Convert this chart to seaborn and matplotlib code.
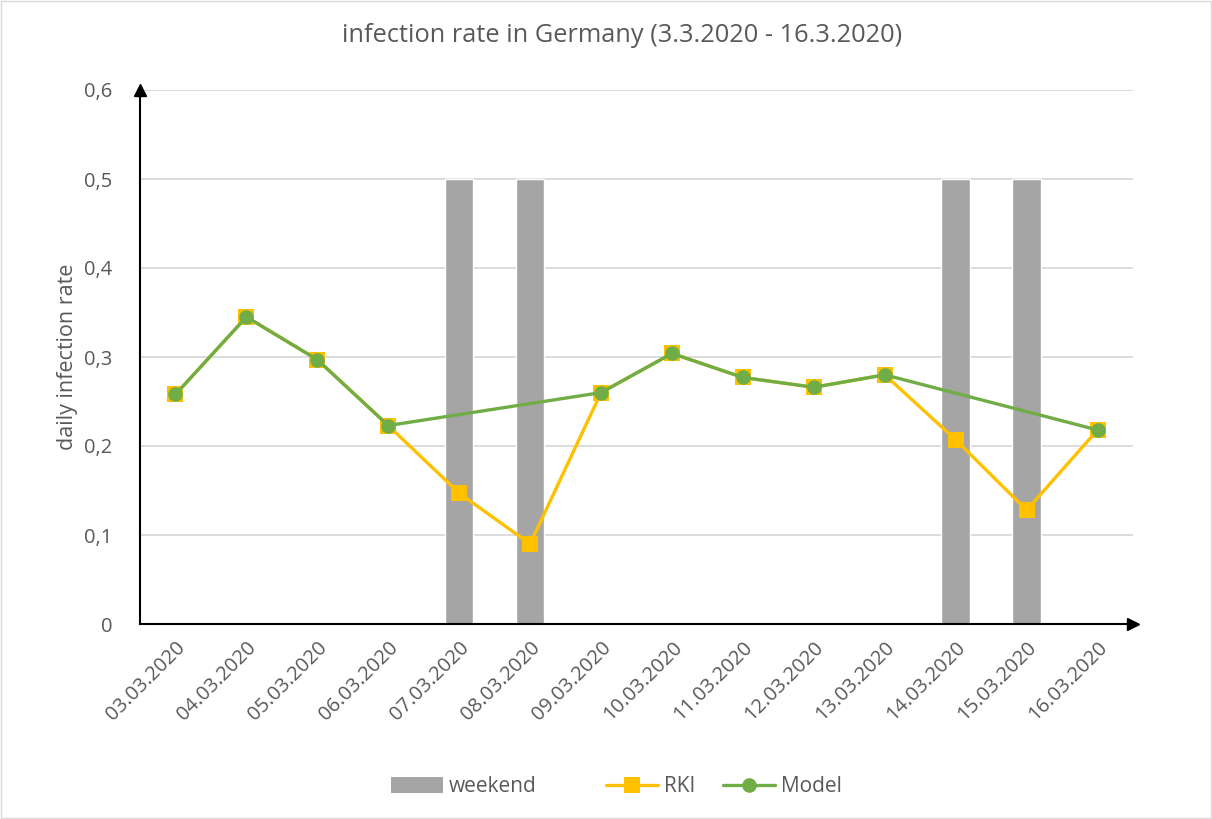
import numpy as np
import pandas as pd
import matplotlib
matplotlib.use("Agg")
import matplotlib.pyplot as plt
from matplotlib.patches import Patch, Rectangle
from matplotlib.lines import Line2D
import seaborn as sns

dates = ["03.03.2020", "04.03.2020", "05.03.2020", "06.03.2020", "07.03.2020",
         "08.03.2020", "09.03.2020", "10.03.2020", "11.03.2020", "12.03.2020",
         "13.03.2020", "14.03.2020", "15.03.2020", "16.03.2020"]
weekend = [0, 0, 0, 0, 0.5, 0.5, 0, 0, 0, 0, 0, 0.5, 0.5, 0]
rki = [0.258, 0.345, 0.297, 0.223, 0.147, 0.090, 0.260, 0.304, 0.277, 0.266,
       0.280, 0.207, 0.128, 0.218]
model = [0.258, 0.345, 0.297, 0.223, np.nan, np.nan, 0.260, 0.304, 0.277, 0.266,
         0.280, np.nan, np.nan, 0.218]
yticks = [0, 0.1, 0.2, 0.3, 0.4, 0.5, 0.6]
ytick_labels = ["0", "0,1", "0,2", "0,3", "0,4", "0,5", "0,6"]

sns.set_style("white")
plt.rcParams['font.family'] = ['Open Sans', 'DejaVu Sans']
TXT = "#595959"

fig = plt.figure(figsize=(12.12, 8.19), dpi=100)
ax = fig.add_axes([140/1212, 1-624/819, (1133-140)/1212, (624-90)/819])

pos = np.arange(len(dates))
df = pd.DataFrame({"pos": pos, "weekend": weekend, "rki": rki, "model": model})

# gridlines
for v in yticks[1:]:
    ax.axhline(v, color="#D9D9D9", lw=1.3, zorder=0)

sns.barplot(x="pos", y="weekend", data=df, color="#A5A5A5", width=0.4,
            saturation=1, native_scale=True, ax=ax, zorder=2)
sns.lineplot(x="pos", y="rki", data=df, color="#FFC000", lw=2.4, marker="s",
             markersize=11, markeredgewidth=0, ax=ax, zorder=3)
dm = df.dropna(subset=["model"])
sns.lineplot(x="pos", y="model", data=dm, color="#70AD47", lw=2.4, marker="o",
             markersize=10.5, markeredgewidth=0, ax=ax, zorder=4)

ax.set_xlim(-0.5, 13.5)
ax.set_ylim(0, 0.6)
ax.set_xticks(pos)
ax.set_xticklabels(dates, rotation=45, ha="right", rotation_mode="anchor",
                   fontsize=14.5, color=TXT)
ax.set_yticks(yticks)
ax.set_yticklabels(ytick_labels, fontsize=14.5, color=TXT)
ax.tick_params(axis="both", length=0)
ax.tick_params(axis="y", pad=20)
ax.tick_params(axis="x", pad=10)
ax.set_xlabel("")
ax.set_ylabel("daily infection rate", fontsize=15.5, color=TXT, labelpad=4)

for s in ["top", "right"]:
    ax.spines[s].set_visible(False)
for s in ["left", "bottom"]:
    ax.spines[s].set_color("black")
    ax.spines[s].set_linewidth(1.5)
    ax.spines[s].set_zorder(5)

# arrow heads
ax.plot(1, 0, ">k", ms=9, transform=ax.transAxes, clip_on=False, zorder=6)
ax.plot(0, 1, "^k", ms=9, transform=ax.transAxes, clip_on=False, zorder=6)

fig.text(622/1212, 1-35/819, "infection rate in Germany (3.3.2020 - 16.3.2020)",
         ha="center", va="center", fontsize=18.3, color=TXT)

# legends
leg_items = [
    (Patch(facecolor="#A5A5A5", edgecolor="none"), "weekend", 390),
    (Line2D([], [], color="#FFC000", lw=2.4, marker="s", ms=11, mew=0), "RKI", 605),
    (Line2D([], [], color="#70AD47", lw=2.4, marker="o", ms=10.5, mew=0), "Model", 722),
]
for h, lab, x0 in leg_items:
    lg = fig.legend([h], [lab], loc="center left",
                    bbox_to_anchor=(x0/1212 - 0.015, 1-787/819), frameon=False,
                    fontsize=15, handlelength=2.5, handleheight=0.8,
                    handletextpad=0.3, labelcolor=TXT)

fig.patches.append(Rectangle((0.001, 0.001), 0.998, 0.998, transform=fig.transFigure,
                             fill=False, edgecolor="#D9D9D9", lw=1))

fig.savefig("out.png", dpi=100)
